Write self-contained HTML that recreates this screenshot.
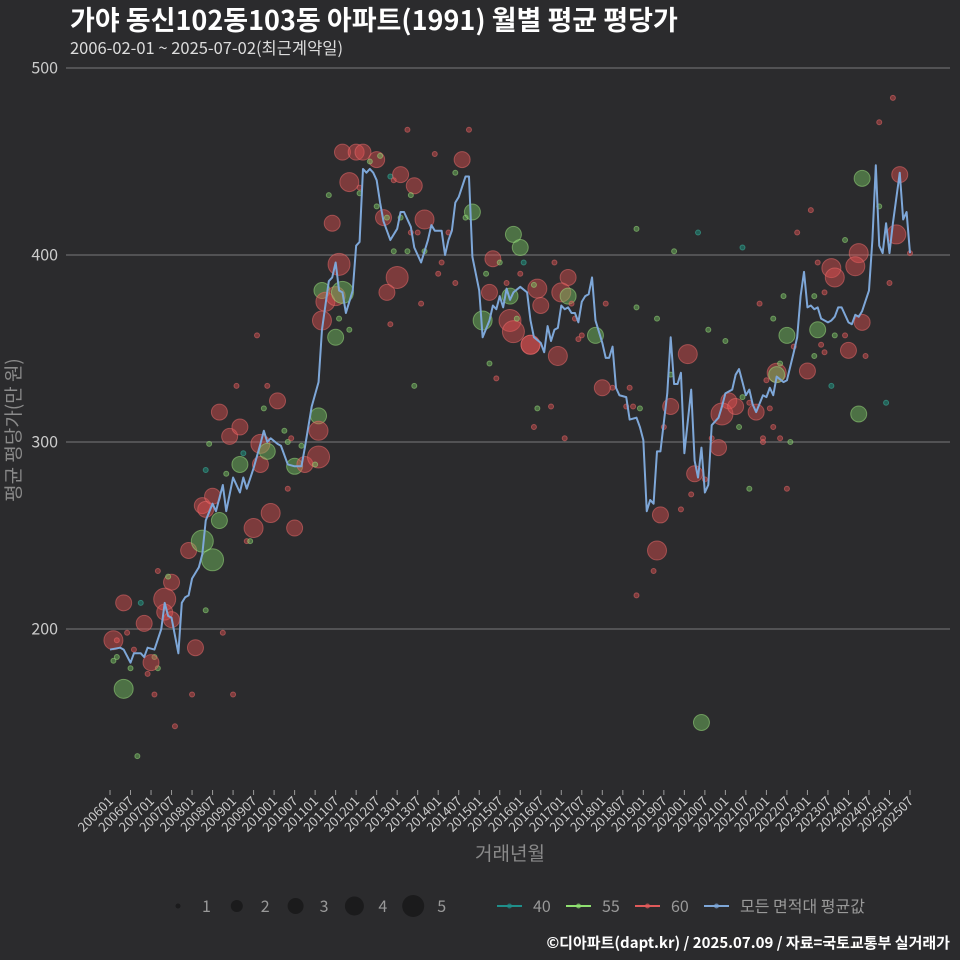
<!DOCTYPE html>
<html><head><meta charset="utf-8"><style>
html,body{margin:0;padding:0;background:#2b2b2d;}
svg{display:block;font-family:"Noto Sans CJK KR","Liberation Sans",sans-serif;}
</style></head><body>
<svg id="chart" width="960" height="960" viewBox="0 0 960 960">
<rect width="960" height="960" fill="#2b2b2d"/>
<text x="70" y="30" fill="#ffffff" font-size="27" font-weight="bold">가야 동신102동103동 아파트(1991) 월별 평균 평당가</text>
<text x="70" y="54" fill="#dddddd" font-size="16.5">2006-02-01 ~ 2025-07-02(최근계약일)</text>
<g id="grid"></g>
<g id="dots"></g>
<g id="line"></g>
<g id="xaxis"></g>
<text transform="translate(20,430) rotate(-90)" text-anchor="middle" fill="#8a8a8a" font-size="19">평균 평당가(만 원)</text>
<text x="510" y="860" text-anchor="middle" fill="#8a8a8a" font-size="19">거래년월</text>
<g id="legend"></g>
<text x="950" y="948" text-anchor="end" fill="#ffffff" font-size="15" font-weight="bold">©디아파트(dapt.kr) / 2025.07.09 / 자료=국토교통부 실거래가</text>
</svg>
<script>
const yTicks=[200,300,400,500];
const xTickLabels=[];
for(let y=2006;y<=2025;y++){xTickLabels.push(y+"01");xTickLabels.push(y+"07");}
const lineMonths=[0,3,4,6,7,9,10,11,13,15,16,17,18,20,21,22,23,24,26,27,28,30,31,33,34,36,38,39,40,42,44,45,46,47,49,50,52,54,56,57,59,61,62,64,65,66,67,68,69,71,72,73,74,75,76,77,78,79,80,82,84,85,86,88,89,91,93,94,95,97,98,99,100,101,102,104,105,106,108,109,111,112,113,114,115,116,117,118,120,122,123,124,126,127,128,129,130,131,132,133,134,135,136,137,138,139,140,141,142,144,145,146,147,148,149,151,152,154,155,156,157,158,159,160,161,163,164,165,166,167,168,170,171,172,173,174,175,176,178,179,180,182,183,184,185,186,187,188,189,191,192,193,194,195,197,198,200,201,202,203,204,205,206,207,208,209,210,211,212,213,214,216,217,218,219,220,222,223,224,225,226,227,228,229,231,232,233,234];
const lineValues=[189,190,189,182,187,187,185,190,189,200,214,207,206,187,214,217,218,227,233,240,258,267,263,277,263,281,273,281,275,286,299,306,300,302,299,298,288,287,287,297,319,332,360,386,388,396,381,380,369,381,405,407,446,444,446,444,440,428,418,408,414,423,423,415,404,396,408,416,413,413,400,408,413,428,431,442,442,399,381,356,365,373,371,378,372,382,376,380,383,380,365,356,353,348,362,354,360,361,373,371,372,369,369,364,375,378,379,388,365,353,345,345,351,329,325,324,312,313,308,301,263,269,267,295,295,326,356,331,331,337,294,328,290,281,297,273,277,309,313,319,326,328,336,339,332,325,328,320,316,325,324,329,325,335,332,333,348,356,378,391,372,373,371,372,366,365,364,365,367,372,372,364,363,368,367,370,381,408,448,405,401,417,401,417,444,419,423,401];
const dotMonths=[1,2,4,9,10,5,7,1,2,6,13,14,12,11,4,13,19,8,14,16,16,18,18,17,28,25,24,33,36,23,27,30,27,28,30,32,28,34,29,32,35,38,37,39,38,43,45,46,49,42,47,54,40,41,52,44,44,46,51,52,53,56,54,57,61,60,61,61,68,72,74,78,79,76,70,73,64,73,82,83,85,89,88,95,87,103,105,101,78,80,81,85,65,92,88,90,99,104,106,118,120,83,87,92,67,62,63,66,68,62,66,67,70,84,81,97,96,101,91,82,89,112,114,121,120,110,111,116,117,109,117,118,119,123,111,113,130,134,125,124,132,134,135,126,145,154,160,165,175,180,136,138,137,142,123,131,169,144,147,152,164,151,153,155,125,129,124,133,164,162,181,179,183,176,178,171,174,170,167,161,160,159,154,173,172,154,229,225,220,231,225,205,201,185,215,219,218,230,234,207,211,212,228,197,206,209,190,194,220,198,207,212,215,200,208,206,209,216,221,204,195,195,196,192,211,227,219,189,187,185,193,184,194,191,196,191,199,187,198];
const dotValues=[194,194,214,214,203,198,189,183,185,179,185,179,182,176,168,165,148,132,231,216,209,205,225,228,210,190,165,198,165,242,247,237,266,264,271,258,285,283,299,316,303,308,330,294,288,357,318,330,322,254,262,254,247,247,275,299,288,295,306,300,302,298,287,288,292,288,314,306,455,455,455,451,453,450,439,433,432,436,442,440,443,437,432,454,467,451,467,444,426,420,420,420,417,419,412,412,412,420,423,411,404,402,402,402,395,381,375,378,380,365,356,366,360,388,380,396,390,385,374,363,330,398,396,396,390,390,380,385,378,365,365,359,366,352,342,334,396,388,382,384,380,378,374,373,374,372,366,402,360,354,366,357,355,357,352,346,347,329,329,329,336,319,319,318,318,319,308,302,319,308,322,315,319,302,297,283,280,272,264,261,242,231,218,150,412,414,484,471,441,443,426,424,412,404,408,401,394,411,401,396,393,388,385,378,378,380,374,366,364,357,360,357,357,351,352,346,348,349,346,338,337,336,342,333,330,321,315,316,321,324,318,308,308,302,302,300,300,275,275];
const dotSizes=[4,1,3,1,3,1,1,1,1,1,1,1,3,1,4,1,1,1,1,5,3,3,3,1,1,3,1,1,1,3,5,5,3,3,3,3,1,1,1,3,3,3,1,1,3,1,1,1,3,4,4,3,1,1,1,4,3,3,1,1,1,1,3,3,5,1,3,4,3,3,3,3,1,1,4,1,1,1,1,1,3,3,1,1,1,3,1,1,1,3,1,1,3,4,1,1,1,1,3,3,3,1,1,1,5,3,4,4,5,4,3,1,1,5,3,1,1,1,1,1,1,3,1,1,1,1,3,1,3,4,5,5,1,4,1,1,1,3,4,1,4,3,1,3,1,1,1,1,1,1,1,1,1,3,4,4,4,3,1,1,1,1,1,1,1,1,1,1,3,1,3,5,3,1,3,3,1,1,1,3,4,1,1,3,1,1,1,1,3,3,1,1,1,1,1,4,4,4,1,1,4,4,1,1,1,1,1,1,3,3,3,1,1,1,1,1,1,3,1,3,4,3,1,1,1,1,3,3,1,1,1,1,1,1,1,1,1,1,1];
const dotTypes=[60,60,60,40,60,60,60,55,55,55,55,55,60,60,55,60,60,55,60,60,60,60,60,55,55,60,60,60,60,60,55,55,60,60,60,55,40,55,55,60,60,60,60,40,55,60,55,60,60,60,60,60,60,55,60,60,60,55,55,55,60,55,55,60,60,55,55,60,60,60,60,60,55,55,60,55,55,60,40,60,60,60,55,60,60,60,60,55,55,60,55,55,60,60,60,60,60,55,55,55,55,55,55,55,60,55,60,60,55,60,55,55,55,60,60,60,60,60,60,60,55,60,55,40,60,55,60,60,55,55,60,60,55,60,55,60,60,60,60,55,60,55,60,60,60,55,55,55,55,55,60,60,60,55,60,60,60,60,60,60,55,60,60,55,55,60,60,60,60,60,60,60,60,60,60,60,60,60,60,60,60,60,60,55,40,55,60,60,55,60,55,60,60,40,55,60,60,60,60,60,60,60,60,55,55,60,60,55,60,55,55,55,60,60,60,55,60,60,60,60,60,55,55,60,40,40,55,60,60,55,60,55,60,60,60,60,55,55,60,60];
const X0=110,X1=910,MMAX=234,YT=68,YB=629;
function xs(m){return X0+m*(X1-X0)/MMAX;}
function ys(v){return YT+(500-v)*(YB-YT)/300;}
const NS="http://www.w3.org/2000/svg";
function mk(tag,attrs,parent){const e=document.createElementNS(NS,tag);for(const k in attrs)e.setAttribute(k,attrs[k]);parent.appendChild(e);return e;}
const grid=document.getElementById('grid');
yTicks.forEach(v=>{
  const l=mk('line',{x1:66,x2:950,y1:ys(v),y2:ys(v),stroke:'#7a7a7a','stroke-width':1},grid);
  
  
  const t=mk('text',{x:58,y:ys(v)+5.5,'text-anchor':'end',fill:'#cccccc','font-size':16},grid);
  t.textContent=v;
  
  
});
const rmap={1:2.5,2:6,3:8,4:9.5,5:11};
const fills={40:'rgba(30,150,130,0.5)',55:'rgba(120,200,100,0.45)',60:'rgba(225,80,80,0.45)'};
const strokes={40:'rgba(60,180,160,0.55)',55:'rgba(160,230,130,0.5)',60:'rgba(240,110,110,0.5)'};
const dots=document.getElementById('dots');
for(let i=0;i<dotMonths.length;i++){
  const c=mk('circle',{cx:xs(dotMonths[i]),cy:ys(dotValues[i]),r:rmap[dotSizes[i]],fill:fills[dotTypes[i]],stroke:strokes[dotTypes[i]],'stroke-width':1},dots);
  
  
}
const lg=document.getElementById('line');
const p=mk('polyline',{points:lineMonths.map((m,i)=>xs(m)+','+ys(lineValues[i])).join(' '),fill:'none',stroke:'#7ea7d8','stroke-width':2,'stroke-linejoin':'round'},lg);


const xa=document.getElementById('xaxis');
xTickLabels.forEach((lab,i)=>{
  const x=xs(i*6);
  const tk=mk('line',{x1:x,x2:x,y1:790,y2:795,stroke:'#999','stroke-width':1},xa);
  
  
  const t=mk('text',{transform:'translate('+(x+4)+',802) rotate(-45)','text-anchor':'end',fill:'#cccccc','font-size':13},xa);
  t.textContent=lab;
  
  
});
const leg=document.getElementById('legend');
const sizeLegend=[1,2,3,4,5];
sizeLegend.forEach((s,i)=>{
  const cx=178+i*58.8;
  const c=mk('circle',{cx:cx,cy:906,r:rmap[s],fill:'#1b1b1c'},leg);
  
  
  const t=mk('text',{x:cx+24,y:912,fill:'#999','font-size':16},leg);
  t.textContent=s;
  
  
});
const lineLegend=[['40','#1f8f8a'],['55','#8fe070'],['60','#e05a5a'],['모든 면적대 평균값','#7ea7d8']];
const lx=[497,566,635,704];
lineLegend.forEach((d,i)=>{
  const x=lx[i];
  const l=mk('line',{x1:x,x2:x+25,y1:906,y2:906,stroke:d[1],'stroke-width':2},leg);
  
  
  const c=mk('circle',{cx:x+12.5,cy:906,r:2.5,fill:d[1],opacity:0.7},leg);
  
  
  const t=mk('text',{x:x+36,y:912,fill:'#999','font-size':16},leg);
  t.textContent=d[0];
  
  
});
</script>
</body></html>
